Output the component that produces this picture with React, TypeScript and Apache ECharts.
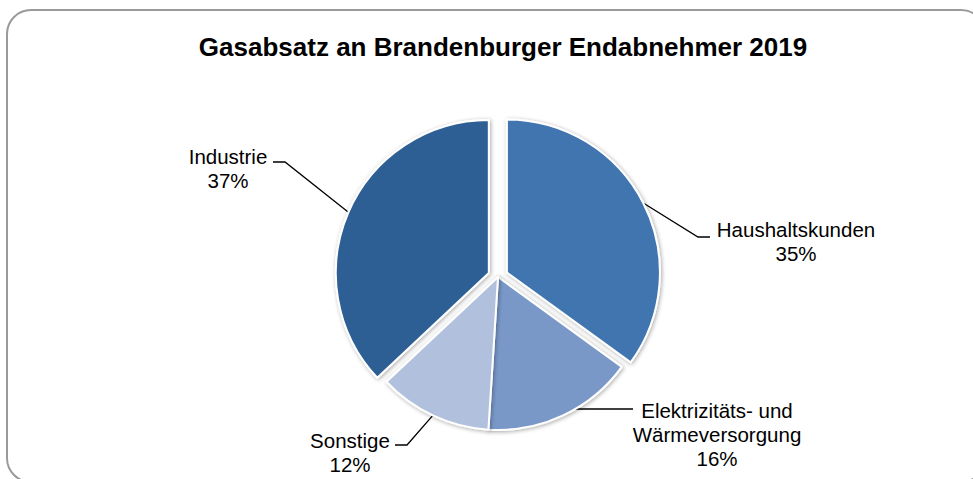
import React, { useEffect, useRef } from 'react';
import * as echarts from 'echarts';

const TITLE = 'Gasabsatz an Brandenburger Endabnehmer 2019';
const categories = ['Haushaltskunden', 'Elektrizitäts- und Wärmeversorgung', 'Sonstige', 'Industrie'];
const shares = [35, 16, 12, 37];
const colors = ['#3F74AF', '#7998C8', '#B1C0DC', '#2D5E94'];
const explodeOffsets = [10, 0, 0, 10];

// label layout: text block centres and leader-line bend/end points
const labelCenters = [[796, 241], [717, 434], [350, 452], [228, 168]];
const leaderPoints = [
  [[698, 237], [710, 237]],
  [[572, 409], [633, 409]],
  [[407, 445], [395, 445]],
  [[285, 162], [273, 162]],
];

const FONT = '"Liberation Sans", Arial, Helvetica, sans-serif';
const CX = 498;
const CY = 277;
const R = 153;

export default function App() {
  const ref = useRef<HTMLDivElement>(null);
  useEffect(() => {
    if (!ref.current) return;
    const chart = echarts.init(ref.current, undefined, { renderer: 'svg' });
    const total = shares.reduce((a, b) => a + b, 0);
    let cum = 0;
    const series = categories.map((_, k) => {
      const mid = ((cum + shares[k] / 2) / total) * Math.PI * 2; // clockwise from top
      cum += shares[k];
      const off = explodeOffsets[k];
      const center = [CX + Math.sin(mid) * off, CY - Math.cos(mid) * off];
      return {
        type: 'pie',
        center,
        radius: R,
        startAngle: 90,
        clockwise: true,
        silent: true,
        avoidLabelOverlap: false,
        emphasis: { disabled: true },
        label: {
          show: true,
          position: 'outside',
          fontFamily: FONT,
          fontSize: 20.5,
          lineHeight: 24,
          color: '#000',
          align: 'center',
          formatter: (p: any) => `${String(p.name).replace('- und ', '- und\n')}\n${p.value}%`,
        },
        labelLine: {
          show: true,
          length: 20,
          length2: 12,
          lineStyle: { color: '#000', width: 1.3 },
        },
        labelLayout: (params: any) => {
          const i = params.dataIndex;
          const p0 = params.labelLinePoints ? params.labelLinePoints[0] : leaderPoints[i][0];
          return {
            x: labelCenters[i][0],
            y: labelCenters[i][1],
            align: 'center',
            verticalAlign: 'middle',
            labelLinePoints: [p0, leaderPoints[i][0], leaderPoints[i][1]],
          };
        },
        data: categories.map((name, i) =>
          i === k
            ? {
                name,
                value: shares[i],
                itemStyle: {
                  color: colors[i],
                  borderColor: '#ffffff',
                  borderWidth: 2,
                  shadowBlur: 4,
                  shadowColor: 'rgba(0,0,0,0.35)',
                  shadowOffsetX: 1,
                  shadowOffsetY: 1,
                },
              }
            : {
                name,
                value: shares[i],
                itemStyle: { color: 'rgba(0,0,0,0)', borderWidth: 0, shadowBlur: 0 },
                label: { show: false },
                labelLine: { show: false },
              }
        ),
      };
    });
    chart.setOption({
      animation: false,
      backgroundColor: '#ffffff',
      graphic: [
        {
          type: 'rect',
          shape: { x: 7, y: 10, width: 978, height: 472, r: 24 },
          style: { fill: '#ffffff', stroke: '#9a9a9a', lineWidth: 2 },
          z: -10,
          silent: true,
        },
      ],
      title: {
        text: TITLE,
        left: 498,
        top: 29,
        textAlign: 'center',
        textStyle: { fontFamily: FONT, fontSize: 26, fontWeight: 'bold', color: '#000' },
      },
      series,
    });
    return () => chart.dispose();
  }, []);
  return (
    <div
      ref={ref}
      style={{ position: 'fixed', left: 0, top: 0, width: 973, height: 479, background: '#fff' }}
    />
  );
}
